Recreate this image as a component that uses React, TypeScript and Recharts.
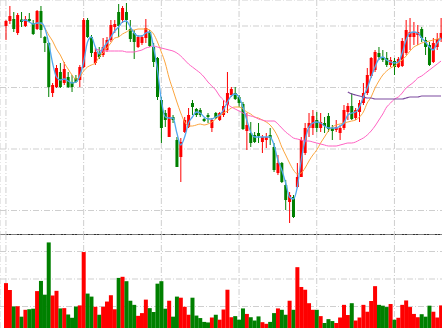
import React from 'react';
import { ComposedChart, Bar, Line, XAxis, YAxis, CartesianGrid, ReferenceLine } from 'recharts';

// ---- price data (one entry per trading day) ----
const opens = [
  274, 279, 281, 267, 280.5, 274, 281, 277, 271, 289,
  263, 257, 207, 213, 228, 217, 223, 218, 222, 220,
  233, 280, 263, 237, 247, 245, 250, 260, 273, 288,
  280, 288, 271, 267, 253, 257, 262, 268, 253, 242,
  200, 187, 163, 183, 160, 143, 168, 173, 197, 191,
  190, 181, 185, 172, 187, 180, 185, 195, 205, 207,
  203, 196, 169, 167, 165, 167, 158, 160, 165, 153,
  127, 137, 115, 98, 103, 113, 123, 147, 172, 172,
  180, 172, 177, 184, 172, 170, 167, 172, 188, 194,
  182, 188, 197, 207, 224, 230, 247, 243, 242, 235,
  239, 233, 234, 247, 263, 263, 265, 271, 260, 255,
  238, 253, 261,
];
const closes = [
  279, 284, 271, 285, 278, 281, 279, 266, 289, 270,
  257, 213, 215, 232, 213, 231, 213, 213, 218, 233,
  280, 263, 247, 248, 243, 253, 260, 275, 276, 274,
  292, 280, 261, 258, 263, 263, 272, 254, 238, 203,
  172, 180, 192, 180, 133, 158, 180, 185, 193, 185,
  185, 179, 183, 180, 182, 187, 194, 207, 211, 201,
  197, 171, 175, 157, 158, 164, 163, 163, 162, 130,
  137, 118, 100, 105, 83, 123, 160, 172, 177, 184,
  172, 178, 174, 171, 169, 173, 172, 190, 194, 181,
  190, 197, 207, 225, 242, 248, 243, 240, 235, 240,
  233, 241, 259, 270, 268, 268, 268, 262, 253, 235,
  257, 261, 267,
];
const highs = [
  280, 294, 288, 287, 288, 284, 287, 280, 290, 294,
  264, 258, 217, 235, 237, 238, 228, 225, 225, 235,
  282, 282, 265, 252, 253, 262, 263, 280, 280, 296,
  294, 297, 280, 270, 265, 265, 281, 270, 257, 243,
  203, 190, 193, 185, 163, 162, 183, 192, 200, 192,
  192, 182, 187, 182, 188, 188, 200, 228, 213, 213,
  205, 198, 187, 178, 168, 177, 165, 167, 172, 157,
  145, 138, 120, 108, 105, 137, 163, 177, 187, 190,
  188, 187, 183, 187, 175, 180, 175, 195, 197, 207,
  192, 200, 217, 232, 243, 250, 253, 250, 248, 243,
  242, 243, 262, 280, 282, 278, 275, 273, 263, 258,
  262, 267, 282,
];
const lows = [
  260, 276, 268, 265, 273, 273, 278, 265, 270, 262,
  248, 203, 203, 212, 212, 215, 212, 208, 217, 213,
  232, 262, 243, 235, 241, 243, 248, 258, 267, 263,
  277, 270, 258, 241, 252, 255, 257, 253, 233, 200,
  157, 173, 163, 177, 133, 118, 167, 172, 185, 183,
  183, 178, 177, 168, 181, 179, 183, 187, 203, 200,
  193, 170, 150, 153, 157, 157, 147, 152, 155, 128,
  125, 117, 90, 77, 82, 112, 123, 145, 163, 165,
  168, 168, 167, 168, 160, 168, 160, 170, 180, 180,
  180, 178, 195, 205, 222, 228, 240, 238, 233, 233,
  225, 232, 233, 245, 250, 255, 255, 258, 245, 234,
  237, 250, 258,
];
const volumes = [
  18500, 16000, 10000, 10100, 6300, 8800, 9000, 9200, 15600, 19300,
  14300, 33300, 14000, 15700, 9300, 9400, 7100, 5900, 10000, 10400,
  29800, 14700, 13600, 9900, 7000, 9900, 11800, 14100, 9000, 20400,
  20800, 19200, 12100, 10600, 6600, 7600, 12500, 9400, 8000, 18300,
  19200, 9200, 12100, 6300, 13600, 13200, 9900, 7000, 13200, 6700,
  5800, 4400, 4200, 6000, 7000, 5200, 8900, 16100, 6100, 6500,
  5200, 9300, 7300, 6100, 4900, 6400, 4300, 3700, 4400, 7600,
  9300, 8800, 7000, 12100, 8800, 24300, 17100, 16100, 11200, 8800,
  8800, 6500, 4000, 5400, 4700, 4000, 6000, 10600, 6900, 11200,
  4900, 6000, 10600, 8100, 12000, 17400, 10600, 10300, 9800, 10900,
  5200, 5900, 10600, 12200, 9800, 7300, 6100, 7200, 6300, 10300,
  8100, 6000, 10400,
];

// ---- moving averages (each starts at the given day) ----
const ma5Start = 4;
const ma5 = [
  279, 280, 278, 276, 277, 277, 272, 257, 237, 223,
  220, 221, 219, 217, 218, 224, 238, 258, 263, 253,
  246, 252, 257, 263, 269, 273, 278, 279, 273, 267,
  264, 264, 267, 268, 253, 230, 200, 183, 182, 182,
  167, 155, 163, 177, 183, 188, 187, 183, 181, 181,
  183, 185, 190, 198, 204, 206, 203, 193, 180, 168,
  163, 163, 163, 163, 163, 155, 140, 130, 117, 103,
  101, 113, 140, 160, 173, 177, 178, 177, 174, 172,
  172, 172, 174, 177, 185, 187, 188, 193, 203, 212,
  223, 233, 241, 243, 240, 238, 237, 238, 247, 260,
  267, 268, 267, 262, 258, 253, 250, 257, 262,
];
const ma10Start = 8;
const ma10 = [
  277, 276, 272, 265, 259, 251, 245, 237, 231, 225,
  221, 223, 229, 233, 235, 237, 243, 247, 252, 257,
  262, 263, 266, 268, 270, 270, 271, 271, 271, 270,
  266, 258, 248, 237, 222, 210, 198, 187, 178, 174,
  174, 175, 176, 175, 176, 178, 181, 184, 187, 189,
  192, 193, 193, 191, 188, 186, 183, 182, 180, 178,
  175, 170, 163, 153, 145, 137, 130, 126, 127, 132,
  139, 145, 150, 157, 163, 169, 173, 175, 176, 177,
  178, 179, 180, 183, 188, 197, 203, 212, 219, 225,
  229, 232, 234, 237, 240, 244, 249, 253, 255, 257,
  258, 259, 260, 261, 262,
];
const ma20Start = 23;
const ma20 = [
  251, 250, 249, 249, 249, 249, 249, 249, 248, 248,
  248, 249, 250, 252, 253, 254, 253, 252, 251, 250,
  249, 247, 244, 240, 236, 233, 230, 227, 223, 218,
  214, 210, 204, 200, 196, 193, 191, 189, 187, 185,
  184, 183, 181, 180, 179, 179, 179, 176, 172, 168,
  165, 162, 161, 160, 159, 159, 158, 157, 156, 155,
  154, 154, 154, 155, 156, 157, 157, 158, 160, 162,
  165, 169, 174, 180, 186, 193, 197, 201, 203, 207,
  212, 215, 218, 222, 224, 227, 230, 233, 236, 239,
];
const ma30Start = 88;
const ma30 = [
  208, 206, 205, 204, 203, 202, 202, 201, 201, 201,
  201, 201, 201, 201, 201, 202, 203, 203, 203, 204,
  204, 204, 204, 204, 204,
];

// ---- axis ticks (grid lines) ----
const priceTicks = [89.5, 151, 212.5, 274];
const volumeTicks = [10000, 20000, 30000];
const dayTickIndexes = [0, 20, 40, 60, 80, 100];

const days = opens.map((_, i) => `D${i + 1}`);
const dayTicks = dayTickIndexes.map((i) => days[i]);

const pick = (arr: number[], start: number, i: number) =>
  i >= start && i - start < arr.length ? arr[i - start] : null;

const rows = days.map((day, i) => ({
  day,
  open: opens[i],
  close: closes[i],
  high: highs[i],
  low: lows[i],
  range: [lows[i], highs[i]],
  volume: volumes[i],
  avg5: pick(ma5, ma5Start, i),
  avg10: pick(ma10, ma10Start, i),
  avg20: pick(ma20, ma20Start, i),
  avg30: pick(ma30, ma30Start, i),
}));

const UP = '#ff0000';
const DOWN = '#008000';
const GRID = '#cfcfcf';
const DASH = '6 2 1 2';

function Candle(props: any) {
  const { x, y, width, height, payload } = props;
  if (x == null || y == null || !payload) return null;
  const { open, close, high, low } = payload;
  const top = Math.min(y, y + height);
  const h = Math.abs(height);
  const span = high - low;
  const py = (v: number) => (span > 0 ? top + ((high - v) / span) * h : top);
  const cx = x + width / 2;
  const color = close >= open ? UP : DOWN;
  const bodyTop = py(Math.max(open, close));
  const bodyH = Math.max(1, Math.abs(py(open) - py(close)));
  return (
    <g>
      <line x1={cx} x2={cx} y1={top} y2={top + h} stroke={color} strokeWidth={1} />
      <rect x={cx - 1.5} y={bodyTop} width={3} height={bodyH} fill={color} />
    </g>
  );
}

function VolumeBar(props: any) {
  const { x, y, width, height, payload } = props;
  if (x == null || y == null || !payload) return null;
  const color = payload.close >= payload.open ? UP : DOWN;
  return <rect x={x} y={y} width={width} height={height} fill={color} />;
}

export default function App() {
  return (
    <div
      style={{
        position: 'absolute',
        left: 0,
        top: 0,
        width: 442,
        height: 328,
        overflow: 'hidden',
        background: '#fff',
      }}
    >
      <div style={{ position: 'absolute', left: 0, top: 0 }}>
        <ComposedChart
          width={443}
          height={236}
          data={rows}
          margin={{ top: 0, right: 0, bottom: 1.5, left: 0 }}
          barCategoryGap={0}
        >
          <CartesianGrid stroke={GRID} strokeDasharray={DASH} />
          <XAxis dataKey="day" hide padding={{ left: 4, right: 0 }} ticks={dayTicks} interval={0} />
          <YAxis hide type="number" domain={[65.5, 300]} ticks={priceTicks} allowDataOverflow />
          <Bar dataKey="range" shape={<Candle />} isAnimationActive={false} />
          <Line type="monotone" dataKey="avg10" stroke="#fba53e" strokeWidth={1} dot={false} isAnimationActive={false} />
          <Line type="monotone" dataKey="avg20" stroke="#ff62c2" strokeWidth={1} dot={false} isAnimationActive={false} />
          <Line type="monotone" dataKey="avg30" stroke="#7d4b9f" strokeWidth={1.2} dot={false} isAnimationActive={false} />
          <Line type="monotone" dataKey="avg5" stroke="#52a8ee" strokeWidth={1.3} dot={false} isAnimationActive={false} />
          <ReferenceLine y={65.5} stroke="#333" strokeWidth={1} strokeDasharray="none" />
        </ComposedChart>
      </div>
      <div style={{ position: 'absolute', left: 0, top: 234 }}>
        <ComposedChart
          width={443}
          height={100}
          data={rows}
          margin={{ top: 0, right: 0, bottom: 0, left: 0 }}
          barCategoryGap={0}
        >
          <CartesianGrid stroke={GRID} strokeDasharray={DASH} />
          <XAxis dataKey="day" hide padding={{ left: 4, right: 0 }} ticks={dayTicks} interval={0} />
          <YAxis hide type="number" domain={[0, 36364]} ticks={volumeTicks} allowDataOverflow />
          <Bar dataKey="volume" shape={<VolumeBar />} isAnimationActive={false} />
        </ComposedChart>
      </div>
    </div>
  );
}
